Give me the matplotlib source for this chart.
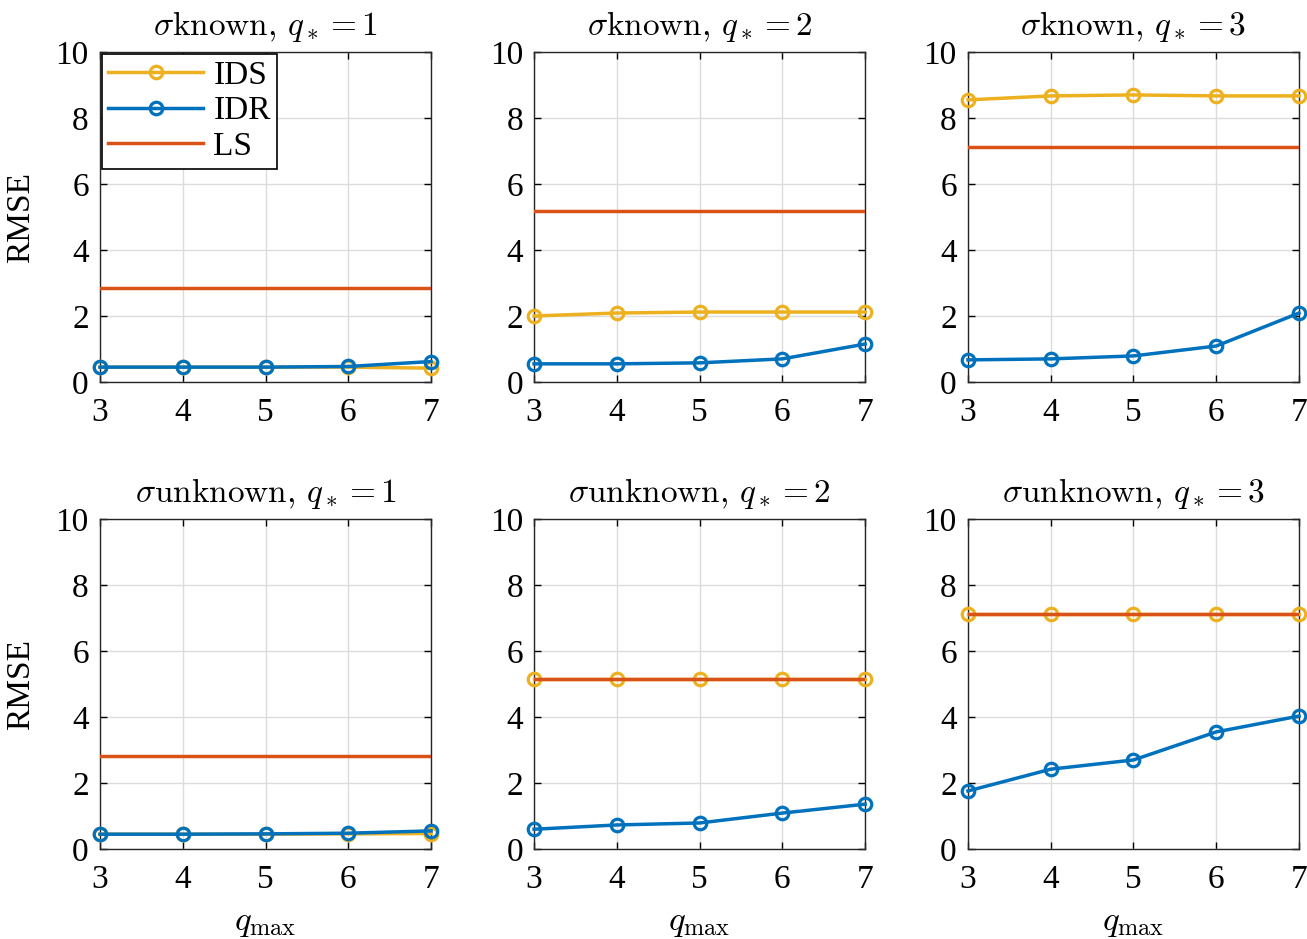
import matplotlib

matplotlib.use("Agg")
import matplotlib.pyplot as plt

plt.rcParams["font.family"] = ["Liberation Serif", "DejaVu Serif"]
plt.rcParams["mathtext.fontset"] = "cm"

q_max = [3, 4, 5, 6, 7]
q_star = [1, 2, 3]

# rows: sigma known / unknown; each list holds one curve per q_* panel
ids_known = [
    [0.45, 0.45, 0.45, 0.45, 0.42],
    [2.00, 2.09, 2.12, 2.12, 2.12],
    [8.55, 8.67, 8.70, 8.67, 8.67],
]
idr_known = [
    [0.45, 0.45, 0.45, 0.47, 0.62],
    [0.55, 0.55, 0.58, 0.70, 1.15],
    [0.67, 0.70, 0.79, 1.09, 2.09],
]
ls_known = [2.85, 5.18, 7.12]

ids_unknown = [
    [0.45, 0.45, 0.45, 0.46, 0.47],
    [5.15, 5.15, 5.15, 5.15, 5.15],
    [7.12, 7.12, 7.12, 7.12, 7.12],
]
idr_unknown = [
    [0.45, 0.45, 0.46, 0.48, 0.55],
    [0.60, 0.73, 0.79, 1.09, 1.36],
    [1.76, 2.42, 2.70, 3.55, 4.03],
]
ls_unknown = [2.82, 5.15, 7.12]

rows = [
    ("known", ids_known, idr_known, ls_known),
    ("unknown", ids_unknown, idr_unknown, ls_unknown),
]

C_IDS = "#EDB120"
C_IDR = "#0072BD"
C_LS = "#D95319"

fig = plt.figure(figsize=(13.07, 9.39), dpi=100)
lefts = [0.0765, 0.4086, 0.7406]
bottoms = [0.5932, 0.0958]
w, h = 0.2533, 0.3514

for r, (label, ids, idr, ls) in enumerate(rows):
    for c, q in enumerate(q_star):
        ax = fig.add_axes([lefts[c], bottoms[r], w, h])
        ax.plot(q_max, ids[c], color=C_IDS, lw=2.5, marker="o", ms=9, mew=2.3,
                mfc="none", label="IDS", zorder=3, clip_on=False)
        ax.plot(q_max, idr[c], color=C_IDR, lw=2.5, marker="o", ms=9, mew=2.3,
                mfc="none", label="IDR", zorder=4, clip_on=False)
        ax.plot(q_max, [ls[c]] * len(q_max), color=C_LS, lw=2.5, label="LS", zorder=5)
        ax.set_xlim(3, 7)
        ax.set_ylim(0, 10)
        ax.set_xticks(q_max)
        ax.set_yticks(range(0, 11, 2))
        ax.grid(True, color="#dcdcdc", lw=1.0)
        ax.set_axisbelow(True)
        ax.tick_params(direction="in", top=True, right=True, labelsize=24,
                       length=5, width=1.0)
        ax.tick_params(axis="x", pad=11)
        ax.tick_params(axis="y", pad=8)
        for sp in ax.spines.values():
            sp.set_linewidth(1.0)
            sp.set_color("#262626")
        ax.set_title(rf"$\sigma\mathrm{{{label}}},\, q_* = {q}$", fontsize=24, pad=12)
        if c == 0:
            ax.set_ylabel("RMSE", fontsize=24, labelpad=14)
        if r == 1:
            ax.set_xlabel(r"$q_{\max}$", fontsize=25, labelpad=8)
        if r == 0 and c == 0:
            leg = ax.legend(loc="upper left", fontsize=24, fancybox=False,
                            edgecolor="black", framealpha=1, handlelength=2.85,
                            borderaxespad=0.05, borderpad=0.2, labelspacing=0.15,
                            handletextpad=0.3, numpoints=1)
            leg.get_frame().set_linewidth(1.2)

fig.savefig("out.png", dpi=100)
